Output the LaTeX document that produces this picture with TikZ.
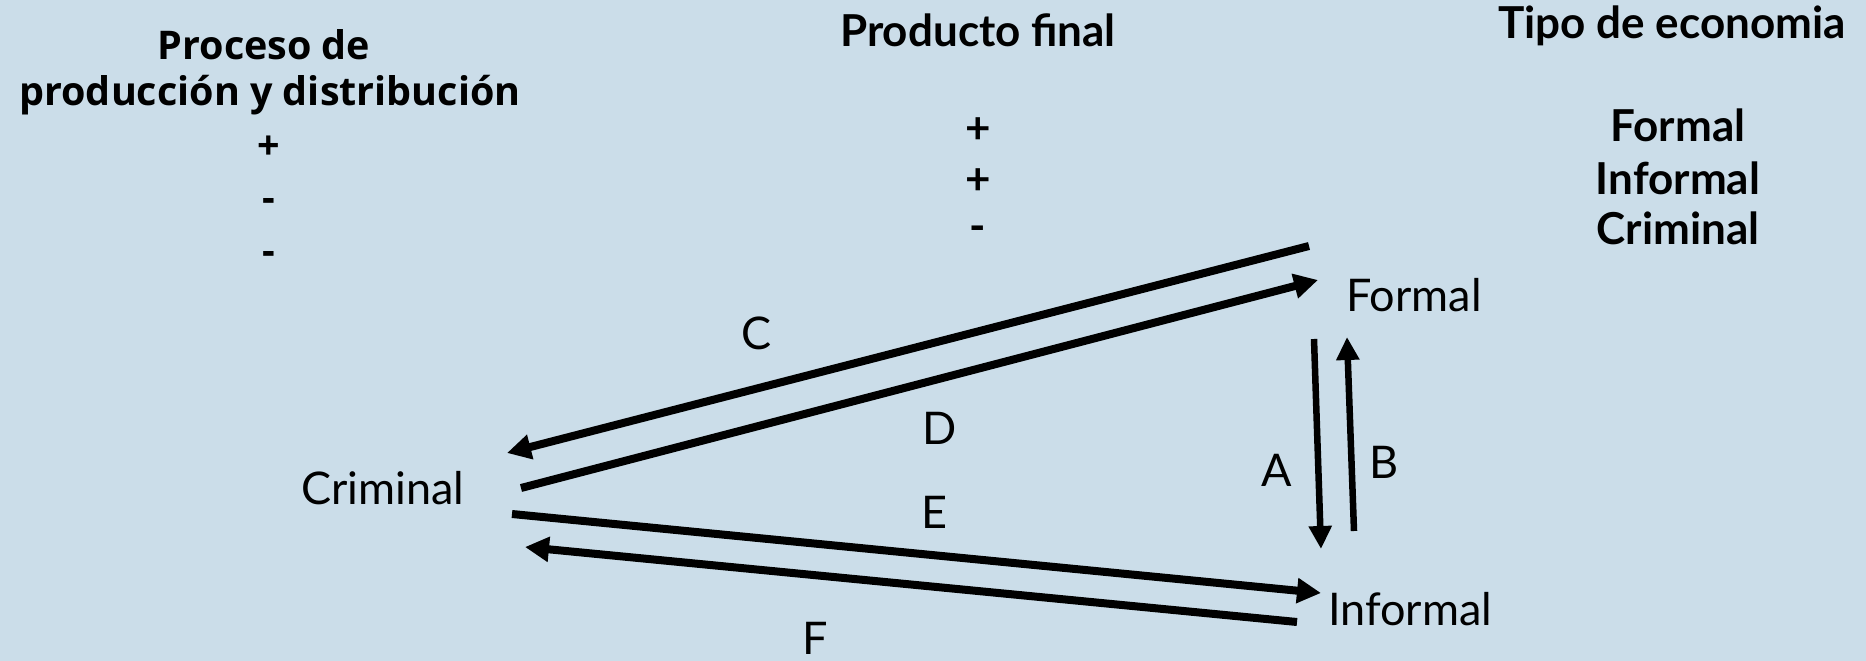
\documentclass[tikz,border=0pt]{standalone}
\usepackage{fontspec}
\setmainfont{Lato}
\newfontfamily\segoe{Open Sans}
\usetikzlibrary{arrows.meta}
\definecolor{bgblue}{RGB}{203,221,233}
\tikzset{
  flow/.style={line width=8pt, -{Triangle[length=24pt,width=24pt]}},
  vflow/.style={line width=6.5pt, -{Triangle[length=23pt,width=22pt]}},
  lbl/.style={font=\fontsize{45}{52}\selectfont, inner sep=0pt},
  head/.style={font=\fontsize{44}{50}\selectfont\bfseries, inner sep=0pt},
  lhead/.style={font=\segoe\fontsize{39.5}{46}\selectfont\bfseries, inner sep=0pt},
}
\begin{document}
\begin{tikzpicture}[x=1pt,y=-1pt]
\fill[bgblue] (0,0) rectangle (1866,661);
\useasboundingbox (0,0) rectangle (1866,661);
% headers
\node[lhead] (h1a) at (264,45) {Proceso de};
\node[lhead] (h1b) at (270,95) {producción y distribución};
\node[lhead] (h1c) at (269,148) {+};
\node[lhead] (h1d) at (269,205) {-};
\node[lhead] (h1e) at (269,258) {-};
\node[head] (h2a) at (978,30) {Producto final};
\node[head] (h2b) at (978,131) {+};
\node[head] (h2c) at (978,182) {+};
\node[head] (h2d) at (978,234) {-};
\node[head] (h3a) at (1672,26) {Tipo de economia};
\node[head] (h3b) at (1678,125) {Formal};
\node[head] (h3c) at (1678,178) {Informal};
\node[head] (h3d) at (1678,228) {Criminal};
% main nodes
\node[lbl] (formal) at (1414,295) {Formal};
\node[lbl] (criminal) at (383,488) {Criminal};
\node[lbl] (informal) at (1410,609) {Informal};
% edge labels
\node[lbl] (lC) at (757,333) {C};
\node[lbl] (lD) at (940,428) {D};
\node[lbl] (lE) at (934,512) {E};
\node[lbl, anchor=base, text depth=0pt] (lF) at (815,654) {F};
\node[lbl] (lA) at (1277,470) {A};
\node[lbl] (lB) at (1384,462) {B};
% arrow ends
\coordinate (c1) at (1309,246); \coordinate (c2) at (507,453);
\coordinate (d1) at (521,488); \coordinate (d2) at (1318,280);
\coordinate (e1) at (512,514); \coordinate (e2) at (1321,593);
\coordinate (f1) at (1297,622); \coordinate (f2) at (525,547);
\coordinate (a1) at (1314,339); \coordinate (a2) at (1321,549);
\coordinate (b1) at (1354,531); \coordinate (b2) at (1347,337);
\draw[flow] (c1) -- (c2);
\draw[flow] (d1) -- (d2);
\draw[flow] (e1) -- (e2);
\draw[flow] (f1) -- (f2);
\draw[vflow] (a1) -- (a2);
\draw[vflow] (b1) -- (b2);
\end{tikzpicture}
\end{document}
